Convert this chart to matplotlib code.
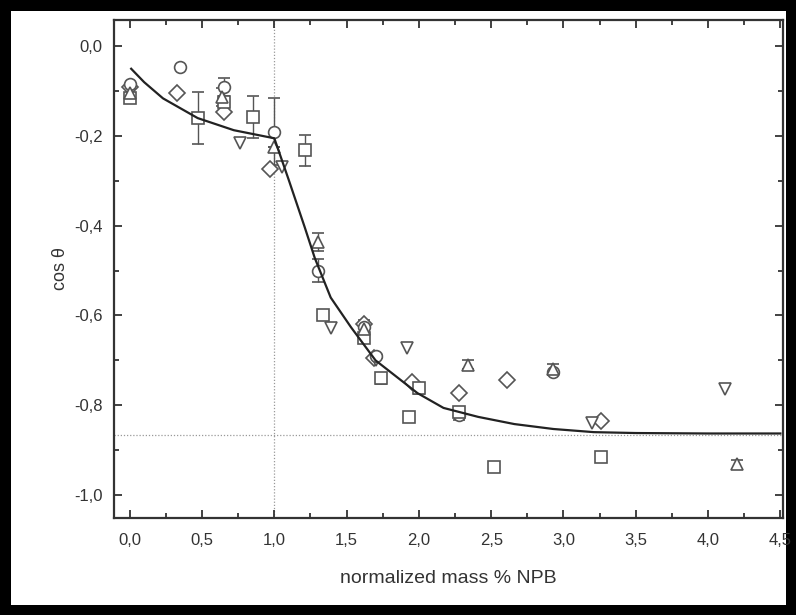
import matplotlib
matplotlib.use("Agg")
import matplotlib.pyplot as plt
from matplotlib.ticker import MultipleLocator, FuncFormatter

plt.rcParams['font.family'] = ['Liberation Sans', 'DejaVu Sans']

# open circles
circ_x = [0.0, 0.35, 0.655, 1.0, 1.30, 1.62, 1.70, 2.28, 2.93]
circ_y = [-0.085, -0.047, -0.09, -0.19, -0.50, -0.625, -0.69, -0.822, -0.725]
circ_err = [0, 0, 0.02, 0.075, 0.025, 0.015, 0, 0.01, 0]

# open squares
sq_x = [0.0, 0.47, 0.655, 0.855, 1.21, 1.34, 1.62, 1.74, 1.93, 2.0, 2.28, 2.52, 3.26]
sq_y = [-0.115, -0.16, -0.125, -0.158, -0.232, -0.60, -0.65, -0.74, -0.826, -0.762,
        -0.815, -0.937, -0.915]
sq_err = [0, 0.058, 0, 0.047, 0.035, 0, 0, 0.012, 0, 0.012, 0, 0.008, 0.008]

# open diamonds
dia_x = [0.0, 0.33, 0.655, 0.97, 1.62, 1.69, 1.95, 2.28, 2.61, 3.26]
dia_y = [-0.09, -0.103, -0.147, -0.274, -0.62, -0.695, -0.748, -0.773, -0.744, -0.835]

# triangles up
tup_x = [0.0, 0.64, 1.0, 1.30, 1.62, 2.34, 2.93, 4.20]
tup_y = [-0.105, -0.113, -0.225, -0.436, -0.63, -0.71, -0.72, -0.932]
tup_err = [0, 0.02, 0, 0.02, 0.015, 0.01, 0.012, 0.01]

# triangles down
tdn_x = [0.76, 1.05, 1.39, 1.70, 1.92, 3.20, 4.12]
tdn_y = [-0.216, -0.27, -0.628, -0.70, -0.673, -0.84, -0.764]

# model curve
fit_x = [0.01, 0.1, 0.23, 0.47, 0.72, 1.0, 1.10, 1.21, 1.28, 1.39, 1.53, 1.70,
         1.99, 2.17, 2.41, 2.66, 2.93, 3.21, 3.5, 4.0, 4.5]
fit_y = [-0.05, -0.08, -0.116, -0.16, -0.187, -0.205, -0.298, -0.403, -0.472, -0.56,
         -0.626, -0.70, -0.773, -0.806, -0.826, -0.842, -0.853, -0.86, -0.862, -0.863,
         -0.863]

ref_x = 1.0
ref_y = -0.866

fig = plt.figure(figsize=(7.96, 6.15), dpi=100)
fig.patch.set_facecolor('white')
fig.patch.set_edgecolor('black')
fig.patch.set_linewidth(14)
ax = fig.add_axes([0.143, 0.158, 0.841, 0.809])

ax.axvline(ref_x, color='#999999', lw=0.9, ls=(0, (1, 1.5)), zorder=1)
ax.axhline(ref_y, color='#999999', lw=0.9, ls=(0, (1, 1.5)), zorder=1)

mcol = '#555555'
style = dict(ls='none', mfc='white', mec=mcol, mew=1.2, ms=8.5, ecolor=mcol,
             elinewidth=1.0, capsize=4, zorder=3)
ax.errorbar(circ_x, circ_y, yerr=circ_err, marker='o', **style)
ax.errorbar(sq_x, sq_y, yerr=sq_err, marker='s', **dict(style, ms=8))
ax.errorbar(tup_x, tup_y, yerr=tup_err, marker='^', **style)
ax.plot(dia_x, dia_y, 'D', mfc='white', mec=mcol, mew=1.2, ms=8, zorder=3)
ax.plot(tdn_x, tdn_y, 'v', mfc='white', mec=mcol, mew=1.2, ms=8.5, zorder=3)

ax.plot(fit_x, fit_y, color='#222222', lw=1.6, zorder=4)

ax.set_xlim(-0.11, 4.52)
ax.set_ylim(-1.051, 0.058)
ax.xaxis.set_major_locator(MultipleLocator(0.5))
ax.xaxis.set_minor_locator(MultipleLocator(0.25))
ax.yaxis.set_major_locator(MultipleLocator(0.2))
ax.yaxis.set_minor_locator(MultipleLocator(0.1))
comma = FuncFormatter(lambda v, p: f"{v:.1f}".replace('.', ',').replace('-0,0', '0,0'))
ax.xaxis.set_major_formatter(comma)
ax.yaxis.set_major_formatter(comma)

ax.tick_params(which='both', direction='in', top=True, right=True, width=1.3,
               colors='#333333', labelcolor='#333333', labelsize=12)
ax.tick_params(which='major', length=6)
ax.tick_params(axis='x', which='major', pad=11)
ax.tick_params(axis='y', which='major', pad=8)
ax.tick_params(which='minor', length=3.5)
for s in ax.spines.values():
    s.set_linewidth(1.6)
    s.set_color('#333333')

ax.set_xlabel('normalized mass % NPB', fontsize=14, color='#333333', labelpad=16)
ax.set_ylabel('cos θ', fontsize=13, color='#333333', labelpad=4)

fig.savefig('out.png', dpi=100, facecolor=fig.get_facecolor(), edgecolor=fig.get_edgecolor())
